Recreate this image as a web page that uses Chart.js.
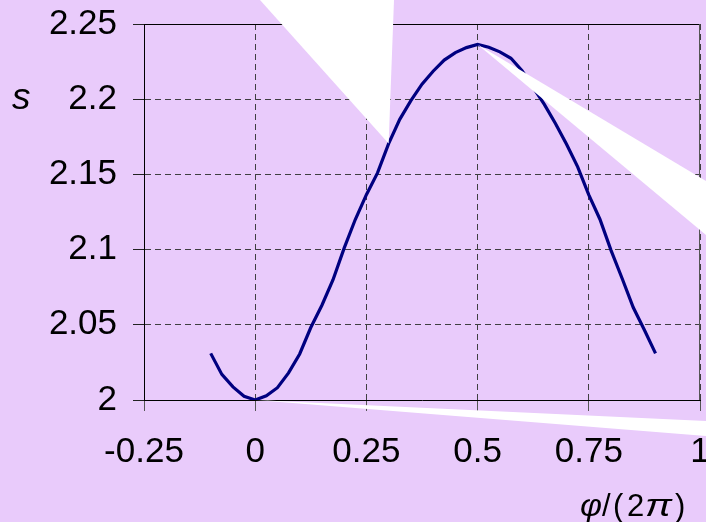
<!DOCTYPE html>
<html>
<head>
<meta charset="utf-8">
<title>s(φ)</title>
<script src="https://cdn.jsdelivr.net/npm/chart.js@4"></script>
<style>
  html, body { margin: 0; padding: 0; background: #E9CBFB; }
  #wrap { width: 706px; height: 522px; position: relative; }
</style>
</head>
<body>
<div id="wrap"><canvas id="grafico"></canvas></div>
<script>
// phase (in units of 2π) and the resulting s
const phase = [
    -0.1, -0.075, -0.05, -0.025, 0, 0.025, 0.05, 0.075, 0.1, 0.125,
    0.15, 0.175, 0.2, 0.225, 0.25, 0.275, 0.3, 0.325, 0.35, 0.375,
    0.4, 0.425, 0.45, 0.475, 0.5, 0.525, 0.55, 0.575, 0.6, 0.625,
    0.65, 0.675, 0.7, 0.725, 0.75, 0.775, 0.8, 0.825, 0.85, 0.875, 0.9
];
const sValues = [
    2.031, 2.017, 2.0087, 2.0025, 2.0, 2.0028, 2.0082, 2.018, 2.0306, 2.0482,
    2.063, 2.080, 2.101, 2.120, 2.1365, 2.151, 2.1705, 2.1866, 2.199, 2.210,
    2.2186, 2.226, 2.231, 2.2343, 2.2364, 2.2345, 2.2315, 2.2272, 2.219, 2.2078,
    2.1965, 2.1839, 2.170, 2.155, 2.1364, 2.1202, 2.0995, 2.0808, 2.0615, 2.0465, 2.031
];

const xTicks = [-0.25, 0, 0.25, 0.5, 0.75, 1];
const xTickLabels = ['-0.25', '0', '0.25', '0.5', '0.75', '1'];
const yTicks = [2, 2.05, 2.1, 2.15, 2.2, 2.25];
const yTickLabels = ['2', '2.05', '2.1', '2.15', '2.2', '2.25'];

// white light rays: start on a curve point, open towards the canvas edge
const rays = [
    { from: 16, to: [[394, 0], [260, 0]] },
    { from: 24, to: [[706, 181], [706, 235]] },
    { from: 4, to: [[706, 421], [706, 436]] }
];

const FONT = '"Liberation Sans", Arial, sans-serif';
const BG = '#E9CBFB';

// x axis title, piece by piece: text, italic, x offset, width (0 = natural)
const xTitle = [
    ['φ', true, 0, 22],
    ['/', false, 22, 0],
    ['(', false, 33, 0],
    ['2', false, 47, 0],
    ['π', true, 65, 27],
    [')', false, 95, 0]
];

const decor = {
    id: 'decor',
    beforeDraw(chart) {
        const ctx = chart.ctx;
        ctx.save();
        ctx.fillStyle = BG;
        ctx.fillRect(0, 0, chart.width, chart.height);
        ctx.restore();
    },
    beforeDatasetsDraw(chart) {
        // solid top and right edges of the plot frame
        const { ctx, chartArea: a } = chart;
        ctx.save();
        ctx.lineWidth = 1;
        ctx.strokeStyle = '#000';
        ctx.beginPath();
        ctx.moveTo(a.left, a.top + 0.5);
        ctx.lineTo(a.right, a.top + 0.5);
        ctx.stroke();
        ctx.strokeStyle = '#555';
        ctx.beginPath();
        ctx.moveTo(a.right - 0.5, a.top);
        ctx.lineTo(a.right - 0.5, a.bottom);
        ctx.stroke();
        ctx.restore();
    },
    afterDraw(chart) {
        const { ctx, chartArea: a } = chart;
        const xs = chart.scales.x, ys = chart.scales.y;
        ctx.save();
        ctx.fillStyle = '#000';

        // axis titles
        ctx.textBaseline = 'alphabetic';
        ctx.textAlign = 'left';
        ctx.font = 'italic 37px ' + FONT;
        ctx.fillText('s', 12, ys.getPixelForValue(2.2) + 10);

        const x0 = a.right - 120;
        xTitle.forEach(([t, it, dx, w]) => {
            ctx.font = (it ? 'italic ' : '') + '31px ' + FONT;
            const nat = ctx.measureText(t).width;
            const k = w ? w / nat : 1;
            ctx.save();
            ctx.translate(x0 + dx, 516);
            ctx.scale(k, 1);
            ctx.fillText(t, 0, 0);
            ctx.restore();
        });

        // light rays
        ctx.fillStyle = '#fff';
        rays.forEach(r => {
            const px = xs.getPixelForValue(phase[r.from]);
            const py = ys.getPixelForValue(sValues[r.from]);
            ctx.beginPath();
            ctx.moveTo(px, py);
            r.to.forEach(p => ctx.lineTo(p[0], p[1]));
            ctx.closePath();
            ctx.fill();
        });
        ctx.restore();
    }
};

const ctx = document.getElementById('grafico').getContext('2d');

const grafico = new Chart(ctx, {
    type: 'line',
    data: {
        datasets: [{
            data: phase.map((p, i) => ({ x: p, y: sValues[i] })),
            borderColor: '#000080',
            borderWidth: 3.2,
            pointRadius: 0,
            tension: 0,
            fill: false
        }]
    },
    options: {
        responsive: true,
        maintainAspectRatio: false,
        animation: false,
        layout: { padding: { top: 24, right: 6, left: 0, bottom: 0 } },
        plugins: {
            legend: { display: false },
            tooltip: { enabled: false }
        },
        scales: {
            x: {
                type: 'linear',
                min: -0.25,
                max: 1,
                afterBuildTicks: s => { s.ticks = xTicks.map(v => ({ value: v })); },
                afterFit: s => { s.height = 122; s.paddingLeft = 0; s.paddingRight = 0; },
                ticks: {
                    padding: 20,
                    color: '#000',
                    font: { family: FONT, size: 35 },
                    maxRotation: 0,
                    autoSkip: false,
                    callback: (v, i) => xTickLabels[i]
                },
                grid: { color: '#404040', lineWidth: 1, tickLength: 11, tickColor: '#555' },
                border: { color: '#000', width: 1, dash: [6, 4] }
            },
            y: {
                min: 2,
                max: 2.25,
                afterBuildTicks: s => { s.ticks = yTicks.map(v => ({ value: v })); },
                afterFit: s => { s.width = 144; s.paddingTop = 0; s.paddingBottom = 0; },
                ticks: {
                    padding: 16,
                    color: '#000',
                    font: { family: FONT, size: 35 },
                    autoSkip: false,
                    callback: (v, i) => yTickLabels[i]
                },
                grid: { color: '#404040', lineWidth: 1, tickLength: 11, tickColor: '#222' },
                border: { color: '#000', width: 1, dash: [6, 4] }
            }
        }
    },
    plugins: [decor]
});
</script>
</body>
</html>
